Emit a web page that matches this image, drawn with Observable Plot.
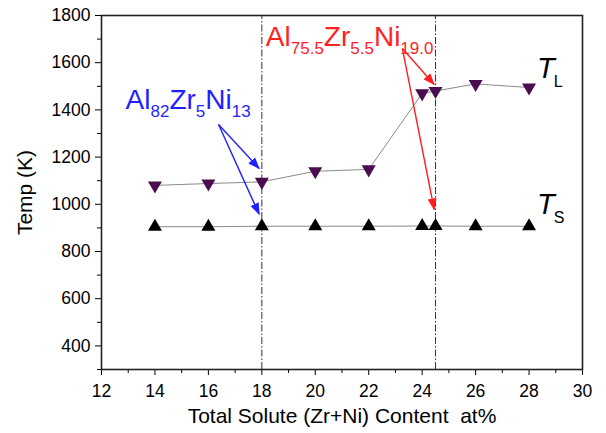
<!DOCTYPE html>
<html><head><meta charset="utf-8">
<script src="https://cdn.jsdelivr.net/npm/d3@7"></script>
<script src="https://cdn.jsdelivr.net/npm/@observablehq/plot@0.6"></script>
<style>
body{margin:0;background:#fff;}
#chart svg{font-family:"Liberation Sans",Arial,sans-serif;}
#chart g[aria-label="x-axis tick label"], #chart g[aria-label="y-axis tick label"]{font-size:17.5px;}
#chart g[aria-label="x-axis label"], #chart g[aria-label="y-axis label"]{font-size:21px;}
</style></head>
<body><div id="chart"></div>
<script>
// Data
const content = [14, 16, 18, 20, 22, 24, 24.5, 26, 28];
const liquidus = [1080, 1088, 1095, 1140, 1148, 1470, 1480, 1510, 1495];
const solidus = [905, 905, 907, 907, 907, 908, 908, 907, 907];
const markLines = [18, 24.5];
const xTicks = [12, 14, 16, 18, 20, 22, 24, 26, 28, 30];
const xMinor = [13, 15, 17, 19, 21, 23, 25, 27, 29];
const yTicks = [400, 600, 800, 1000, 1200, 1400, 1600, 1800];
const yMinor = [300, 500, 700, 900, 1100, 1300, 1500, 1700];
// Annotations
const labels = [
  {x: 12.9, y: 1402, t: "Al_{82}Zr_{5}Ni_{13}", c: "#1f1fff"},
  {x: 18.15, y: 1672, t: "Al_{75.5}Zr_{5.5}Ni_{19.0}", c: "#ff1f1f"}
];
const arrows = [
  {x1: 16.38, y1: 1338, x2: 17.9, y2: 1152, c: "#1f1fff"},
  {x1: 16.38, y1: 1338, x2: 17.9, y2: 958, c: "#1f1fff"},
  {x1: 23.26, y1: 1660, x2: 24.45, y2: 1508, c: "#ff1f1f"},
  {x1: 23.26, y1: 1660, x2: 24.45, y2: 978, c: "#ff1f1f"}
];
const seriesLabels = [
  {x: 28.3, y: 1535, t: "T", s: "L"},
  {x: 28.3, y: 957, t: "T", s: "S"}
];

const tl = content.map((x, i) => ({x, y: liquidus[i]}));
const ts = content.map((x, i) => ({x, y: solidus[i]}));

const plot = Plot.plot({
  width: 606, height: 433,
  marginLeft: 101, marginRight: 24, marginTop: 15, marginBottom: 64,
  x: {domain: [12, 30]},
  y: {domain: [300, 1800]},
  style: {fontSize: "18px", color: "#000", background: "#fff"},
  marks: [
    Plot.ruleX(markLines, {stroke: "#333", strokeWidth: 1, strokeDasharray: "7,2,1.5,2", y1: 300, y2: 1800}),
    Plot.line(tl, {x: "x", y: "y", stroke: "#8a8a8a", strokeWidth: 1}),
    Plot.line(ts, {x: "x", y: "y", stroke: "#8a8a8a", strokeWidth: 1}),
    Plot.dot(tl, {x: "x", y: "y", symbol: "triangle", rotate: 180, r: 5.2, fill: "#4a0d50", stroke: "none"}),
    Plot.dot(ts, {x: "x", y: "y", symbol: "triangle", r: 5.2, fill: "#000", stroke: "none"}),
    Plot.link(arrows, {x1: "x1", y1: "y1", x2: "x2", y2: "y2", stroke: "c", strokeWidth: 1.4, className: "annarrow"}),
    Plot.text(labels, {x: "x", y: "y", text: "t", fill: "c", textAnchor: "start", lineAnchor: "bottom", fontSize: 28, className: "rich"}),
    Plot.text(seriesLabels, {x: "x", y: "y", text: d => d.t + "_{" + d.s + "}", fill: "#000", textAnchor: "start", lineAnchor: "bottom", fontSize: 29, className: "richT"}),
    Plot.axisX({ticks: xTicks, tickSize: 6, tickPadding: 9, label: "Total Solute (Zr+Ni) Content  at%", labelAnchor: "center", labelOffset: 53, labelArrow: "none", tickFormat: d3.format("d")}),
    Plot.axisX({ticks: xMinor, tickSize: 4, text: null, label: null}),
    Plot.axisY({ticks: yTicks, tickSize: 6, tickPadding: 5, label: "Temp (K)", labelAnchor: "center", labelOffset: 84, labelArrow: "none", tickFormat: d3.format("d")}),
    Plot.axisY({ticks: yMinor, tickSize: 4, text: null, label: null}),
    Plot.frame({stroke: "#222", strokeWidth: 1.6})
  ]
});

// Rich text: convert "A_{b}" markup into tspans with subscripts
function richify(sel, subSize, shift, italicMain) {
  plot.querySelectorAll(sel + " text").forEach(el => {
    const s = el.textContent;
    const parts = s.split(/(_\{[^}]*\})/).filter(p => p.length);
    while (el.firstChild) el.removeChild(el.firstChild);
    let prevSub = false;
    parts.forEach(p => {
      const t = document.createElementNS("http://www.w3.org/2000/svg", "tspan");
      if (p.startsWith("_{")) {
        t.textContent = p.slice(2, -1);
        t.setAttribute("font-size", subSize);
        t.setAttribute("dy", shift);
        t.setAttribute("font-style", "normal");
        if (italicMain) t.setAttribute("dx", "-1");
        prevSub = true;
      } else {
        t.textContent = p;
        if (prevSub) t.setAttribute("dy", -shift);
        if (italicMain) t.setAttribute("font-style", "italic");
        prevSub = false;
      }
      el.appendChild(t);
    });
  });
}
richify(".rich", 17, 8, false);
richify(".richT", 16, 9, true);

// Filled arrowheads for annotation arrows
const svgNS = "http://www.w3.org/2000/svg";
const defs = document.createElementNS(svgNS, "defs");
["#1f1fff", "#ff1f1f"].forEach((c, i) => {
  const m = document.createElementNS(svgNS, "marker");
  m.setAttribute("id", "ah" + i);
  m.setAttribute("viewBox", "0 -5 12 10");
  m.setAttribute("refX", "11");
  m.setAttribute("refY", "0");
  m.setAttribute("markerWidth", "12");
  m.setAttribute("markerHeight", "10");
  m.setAttribute("markerUnits", "userSpaceOnUse");
  m.setAttribute("orient", "auto");
  const p = document.createElementNS(svgNS, "path");
  p.setAttribute("d", "M0,-4.5L12,0L0,4.5Z");
  p.setAttribute("fill", c);
  m.appendChild(p);
  defs.appendChild(m);
});
plot.insertBefore(defs, plot.firstChild);
plot.querySelectorAll(".annarrow path").forEach(p => {
  const c = (p.getAttribute("stroke") || "").toLowerCase();
  p.setAttribute("marker-end", c.includes("ff1f1f") ? "url(#ah1)" : "url(#ah0)");
});

document.getElementById("chart").appendChild(plot);
</script>
</body></html>
